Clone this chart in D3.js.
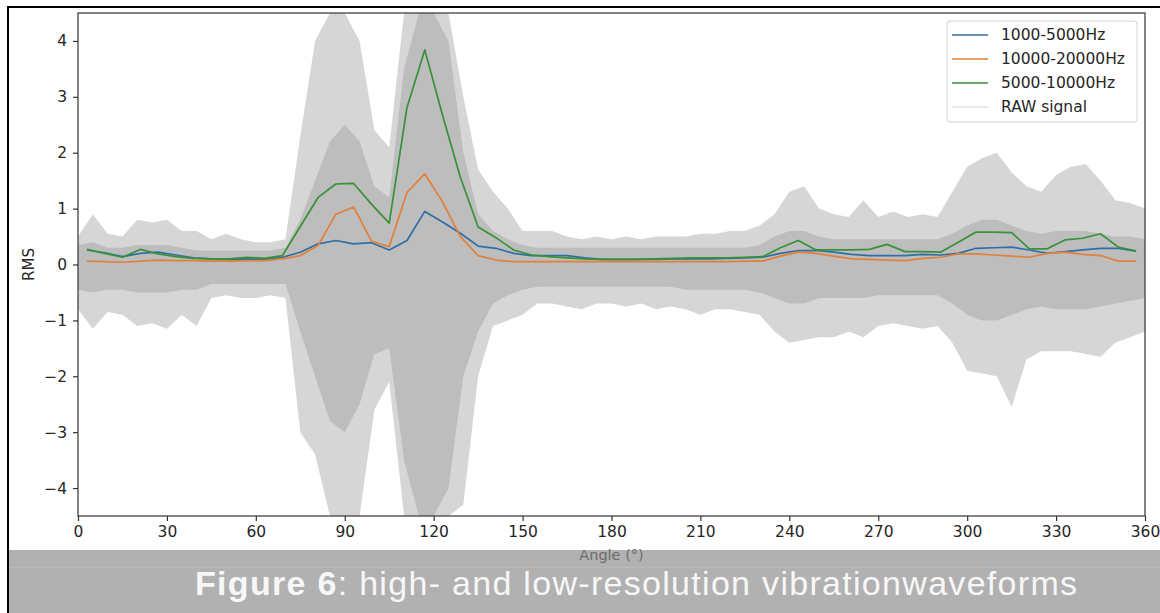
<!DOCTYPE html>
<html>
<head>
<meta charset="utf-8">
<script src="https://cdn.jsdelivr.net/npm/d3@7"></script>
<style>
  body { margin: 0; background: #fff; }
  svg { display: block; }
  .tick text { font-family: "DejaVu Sans", sans-serif; font-size: 15.5px; fill: #262626; }
  .tick line { stroke: #333; stroke-width: 1.2; }
</style>
</head>
<body>
<div id="vib_chart"></div>
<script>
const width = 1160;
const height = 613;

// RMS values per 6 degree window (centres at 3, 9, ... 357)
const rmsAngles = d3.range(3, 360, 6);
const band1000_5000 = [0.26, 0.21, 0.14, 0.20, 0.22, 0.17, 0.12, 0.10, 0.09, 0.10,
  0.09, 0.13, 0.22, 0.37, 0.43, 0.37, 0.39, 0.26, 0.43, 0.95,
  0.76, 0.56, 0.33, 0.29, 0.20, 0.16, 0.16, 0.16, 0.12, 0.09,
  0.09, 0.09, 0.09, 0.10, 0.10, 0.10, 0.11, 0.12, 0.13, 0.20,
  0.25, 0.25, 0.22, 0.18, 0.16, 0.16, 0.16, 0.18, 0.17, 0.20,
  0.29, 0.30, 0.31, 0.26, 0.20, 0.23, 0.26, 0.29, 0.29, 0.24];
const band10000_20000 = [0.06, 0.05, 0.04, 0.06, 0.08, 0.07, 0.07, 0.06, 0.06, 0.07,
  0.07, 0.10, 0.16, 0.34, 0.90, 1.03, 0.42, 0.32, 1.29, 1.62,
  1.12, 0.50, 0.16, 0.08, 0.05, 0.05, 0.05, 0.05, 0.05, 0.05,
  0.05, 0.05, 0.05, 0.05, 0.05, 0.05, 0.05, 0.06, 0.06, 0.15,
  0.22, 0.20, 0.15, 0.10, 0.09, 0.08, 0.07, 0.11, 0.13, 0.19,
  0.19, 0.17, 0.15, 0.13, 0.20, 0.22, 0.18, 0.16, 0.06, 0.06];
const band5000_10000 = [0.27, 0.20, 0.13, 0.27, 0.19, 0.14, 0.11, 0.10, 0.10, 0.13,
  0.11, 0.16, 0.68, 1.20, 1.44, 1.45, 1.08, 0.74, 2.81, 3.84,
  2.67, 1.56, 0.67, 0.48, 0.26, 0.17, 0.14, 0.12, 0.10, 0.09,
  0.09, 0.09, 0.10, 0.11, 0.12, 0.12, 0.12, 0.13, 0.14, 0.30,
  0.43, 0.26, 0.26, 0.26, 0.27, 0.36, 0.23, 0.23, 0.22, 0.40,
  0.58, 0.58, 0.57, 0.28, 0.28, 0.44, 0.47, 0.55, 0.31, 0.24];

// RAW signal envelope read every 5 degrees: spike tips and dense core
const rawAngles = d3.range(0, 361, 5);
const rawPeakHi = [0.5, 0.9, 0.55, 0.5, 0.8, 0.75, 0.8, 0.6, 0.6, 0.45,
  0.55, 0.45, 0.4, 0.4, 0.45, 2.3, 4.0, 4.5, 4.5, 4.0,
  2.4, 2.1, 4.5, 4.5, 4.5, 4.5, 3.0, 1.7, 1.3, 1.0,
  0.6, 0.6, 0.6, 0.5, 0.45, 0.5, 0.45, 0.5, 0.45, 0.5,
  0.5, 0.5, 0.55, 0.55, 0.6, 0.6, 0.7, 0.9, 1.3, 1.4,
  1.0, 0.9, 0.85, 1.15, 0.85, 0.95, 0.85, 0.9, 0.85, 1.3,
  1.75, 1.9, 2.0, 1.65, 1.4, 1.3, 1.6, 1.75, 1.8, 1.5,
  1.15, 1.1, 1.0];
const rawCoreHi = [0.35, 0.4, 0.3, 0.3, 0.35, 0.35, 0.35, 0.3, 0.25, 0.25,
  0.25, 0.25, 0.25, 0.25, 0.3, 0.8, 1.5, 2.2, 2.5, 2.2,
  1.4, 1.2, 3.5, 4.5, 4.5, 4.0, 2.0, 0.9, 0.6, 0.45,
  0.35, 0.3, 0.3, 0.3, 0.3, 0.3, 0.3, 0.3, 0.3, 0.3,
  0.3, 0.3, 0.3, 0.3, 0.3, 0.3, 0.35, 0.5, 0.6, 0.6,
  0.5, 0.45, 0.45, 0.45, 0.45, 0.45, 0.45, 0.45, 0.45, 0.55,
  0.7, 0.8, 0.8, 0.7, 0.6, 0.55, 0.6, 0.6, 0.6, 0.55,
  0.5, 0.5, 0.45];
const rawCoreLo = [-0.45, -0.5, -0.45, -0.45, -0.5, -0.5, -0.5, -0.45, -0.45, -0.35,
  -0.35, -0.35, -0.35, -0.35, -0.35, -1.2, -2.0, -2.8, -3.0, -2.5,
  -1.6, -1.5, -3.5, -4.5, -4.5, -4.0, -2.0, -1.2, -0.7, -0.55,
  -0.45, -0.4, -0.4, -0.4, -0.4, -0.4, -0.4, -0.4, -0.4, -0.4,
  -0.4, -0.45, -0.45, -0.45, -0.45, -0.45, -0.5, -0.6, -0.7, -0.7,
  -0.6, -0.6, -0.6, -0.6, -0.55, -0.55, -0.55, -0.55, -0.55, -0.7,
  -0.9, -1.0, -1.0, -0.9, -0.8, -0.75, -0.8, -0.8, -0.8, -0.75,
  -0.7, -0.65, -0.6];
const rawPeakLo = [-0.8, -1.15, -0.85, -0.9, -1.1, -1.05, -1.15, -0.9, -1.1, -0.6,
  -0.55, -0.6, -0.6, -0.55, -0.6, -3.0, -3.4, -4.5, -4.5, -4.5,
  -2.6, -2.1, -4.5, -4.5, -4.5, -4.5, -4.3, -2.0, -1.1, -1.0,
  -0.9, -0.7, -0.7, -0.75, -0.8, -0.7, -0.7, -0.75, -0.7, -0.8,
  -0.75, -0.8, -0.9, -0.8, -0.8, -0.85, -0.9, -1.2, -1.4, -1.35,
  -1.3, -1.3, -1.2, -1.3, -1.1, -1.05, -1.1, -1.15, -1.1, -1.4,
  -1.9, -1.95, -2.0, -2.55, -1.7, -1.55, -1.55, -1.55, -1.6, -1.65,
  -1.4, -1.3, -1.2];

const xTicks = [0, 30, 60, 90, 120, 150, 180, 210, 240, 270, 300, 330, 360];
const yTicks = [-4, -3, -2, -1, 0, 1, 2, 3, 4];
const seriesNames = ["1000-5000Hz", "10000-20000Hz", "5000-10000Hz"];
const seriesColors = ["#2f6fa6", "#e0803a", "#379237"];
const seriesValues = [band1000_5000, band10000_20000, band5000_10000];

const svg = d3.select("#vib_chart")
  .append("svg")
  .attr("width", width)
  .attr("height", height);

const x = d3.scaleLinear().domain([0, 360]).range([78, 1145]);
const y = d3.scaleLinear().domain([-4.5, 4.5]).range([516, 13]);

svg.append("defs").append("clipPath")
  .attr("id", "plotclip")
  .append("rect")
  .attr("x", x(0)).attr("y", y(4.5))
  .attr("width", x(360) - x(0)).attr("height", y(-4.5) - y(4.5));

const plot = svg.append("g").attr("clip-path", "url(#plotclip)");

// raw signal: light spike envelope then dense core
const rawRows = rawAngles.map((a, i) => ({a: a, ph: rawPeakHi[i], pl: rawPeakLo[i], ch: rawCoreHi[i], cl: rawCoreLo[i]}));

plot.append("path")
  .datum(rawRows)
  .attr("fill", "#d6d6d6")
  .attr("d", d3.area()
    .x(d => x(d.a))
    .y0(d => y(d.pl))
    .y1(d => y(d.ph))
  );

plot.append("path")
  .datum(rawRows)
  .attr("fill", "#bdbdbd")
  .attr("d", d3.area()
    .x(d => x(d.a))
    .y0(d => y(d.cl))
    .y1(d => y(d.ch))
  );

// RMS lines
seriesValues.forEach((vals, k) => {
  plot.append("path")
    .datum(vals)
    .attr("fill", "none")
    .attr("stroke", seriesColors[k])
    .attr("stroke-width", 1.7)
    .attr("stroke-linejoin", "round")
    .attr("d", d3.line()
      .x((d, i) => x(rmsAngles[i]))
      .y(d => y(d))
    );
});

// axes
svg.append("g")
  .attr("transform", `translate(0,${y(-4.5)})`)
  .call(d3.axisBottom(x).tickValues(xTicks).tickFormat(d3.format("d")).tickSize(5).tickPadding(5))
  .call(g => g.select(".domain").remove());

svg.append("g")
  .attr("transform", `translate(${x(0)},0)`)
  .call(d3.axisLeft(y).tickValues(yTicks).tickFormat(d3.format("d")).tickSize(5).tickPadding(6))
  .call(g => g.select(".domain").remove());

// spines
svg.append("rect")
  .attr("x", x(0)).attr("y", y(4.5))
  .attr("width", x(360) - x(0)).attr("height", y(-4.5) - y(4.5))
  .attr("fill", "none")
  .attr("stroke", "#333")
  .attr("stroke-width", 1.2);

svg.append("text")
  .attr("transform", `translate(29,${y(0)}) rotate(-90)`)
  .attr("text-anchor", "middle")
  .attr("dy", "0.35em")
  .style("font-family", "DejaVu Sans, sans-serif")
  .style("font-size", "15px")
  .attr("fill", "#262626")
  .text("RMS");

// legend
const legend = svg.append("g");
legend.append("rect")
  .attr("x", 947).attr("y", 21)
  .attr("width", 190).attr("height", 101)
  .attr("rx", 3)
  .attr("fill", "#fff")
  .attr("stroke", "#d0d0d0");

const legendItems = seriesNames.map((n, k) => ({name: n, color: seriesColors[k], w: 1.7}))
  .concat([{name: "RAW signal", color: "#d3d3d3", w: 1}]);

legendItems.forEach((d, i) => {
  const ly = 35 + i * 24;
  legend.append("line")
    .attr("x1", 952).attr("x2", 988)
    .attr("y1", ly).attr("y2", ly)
    .attr("stroke", d.color)
    .attr("stroke-width", d.w);
  legend.append("text")
    .attr("x", 1001).attr("y", ly)
    .attr("dy", "0.35em")
    .style("font-family", "DejaVu Sans, sans-serif")
    .style("font-size", "15.5px")
    .attr("fill", "#262626")
    .text(d.name);
});

// caption banner
svg.append("rect")
  .attr("x", 9).attr("y", 550)
  .attr("width", width - 9).attr("height", height - 550)
  .attr("fill", "#b1b1b1");
svg.append("line")
  .attr("x1", 9).attr("x2", width)
  .attr("y1", 567.5).attr("y2", 567.5)
  .attr("stroke", "#b9b9b9");

svg.append("text")
  .attr("x", x(180)).attr("y", 559.5)
  .attr("text-anchor", "middle")
  .style("font-family", "DejaVu Sans, sans-serif")
  .style("font-size", "14.5px")
  .attr("fill", "#6b6b6b")
  .text("Angle (°)");

const caption = svg.append("text")
  .attr("x", 195).attr("y", 595)
  .style("font-family", "Liberation Sans, Arial, sans-serif")
  .style("font-size", "34px")
  .style("letter-spacing", "1.3px")
  .attr("fill", "#f7f7f7");
caption.append("tspan").style("font-weight", "bold").text("Figure 6");
caption.append("tspan").text(": high- and low-resolution vibrationwaveforms");

// outer frame lines (top and left)
svg.append("line")
  .attr("x1", 8).attr("x2", width).attr("y1", 7).attr("y2", 7)
  .attr("stroke", "#000").attr("stroke-width", 2);
svg.append("line")
  .attr("x1", 8).attr("x2", 8).attr("y1", 6).attr("y2", height)
  .attr("stroke", "#000").attr("stroke-width", 2);
</script>
</body>
</html>
